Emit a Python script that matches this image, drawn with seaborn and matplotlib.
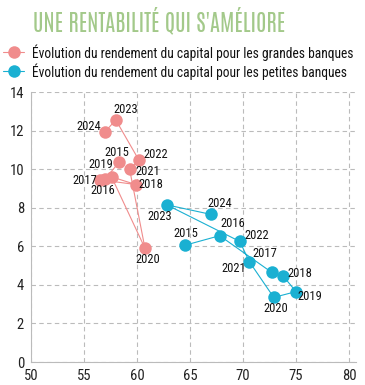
import matplotlib
matplotlib.use("Agg")
import matplotlib.pyplot as plt
import seaborn as sns
import pandas as pd
from matplotlib import font_manager

years = [2015, 2016, 2017, 2018, 2019, 2020, 2021, 2022, 2023, 2024]
grandes_x = [58.3, 57.0, 56.5, 59.9, 57.6, 60.75, 59.3, 60.2, 58.0, 57.0]
grandes_y = [10.35, 9.5, 9.45, 9.2, 9.6, 5.9, 10.0, 10.45, 12.55, 11.95]
petites_x = [64.5, 67.8, 72.7, 73.8, 75.0, 72.9, 70.6, 69.7, 62.8, 67.0]
petites_y = [6.05, 6.55, 4.65, 4.45, 3.65, 3.35, 5.2, 6.25, 8.15, 7.65]

title = "UNE RENTABILITÉ QUI S'AMÉLIORE"
label_grandes = "Évolution du rendement du capital pour les grandes banques"
label_petites = "Évolution du rendement du capital pour les petites banques"
xticks = [50, 55, 60, 65, 70, 75, 80]
yticks = [0, 2, 4, 6, 8, 10, 12, 14]

# label offsets in pixels (dx right, dy up)
off_grandes = [(-2, 10), (-2, -12), (-15, -1), (15, 0), (-11, 12), (3, -11), (18, -2), (17, 6), (10, 10), (-16, 5)]
off_petites = [(1, 12), (13, 12), (-7, 19), (17, 3), (14, -5), (2, -11), (-16, -7), (17, 6), (-7, -12), (9, 11)]

sns.set_theme(style="white")
names = {f.name for f in font_manager.fontManager.ttflist}


def pick(cands):
    for c in cands:
        if c in names:
            return c
    return "DejaVu Sans"


body = pick(["Roboto Condensed", "Barlow Condensed", "Asap Condensed", "Archivo Narrow"])
head = pick(["Antonio", "Pathway Gothic One", "League Gothic", "Oswald", "Barlow Condensed"])
plt.rcParams["font.family"] = [body, "DejaVu Sans"]

pink = "#f08c8c"
blue = "#1ab0d2"

fig = plt.figure(figsize=(3.65, 3.85), dpi=100)
ax = fig.add_axes([31 / 365, 1 - 362 / 385, 325 / 365, 270 / 385])

dg = pd.DataFrame({"x": grandes_x, "y": grandes_y, "year": years})
dp = pd.DataFrame({"x": petites_x, "y": petites_y, "year": years})

for d, c, lab in [(dg, pink, label_grandes), (dp, blue, label_petites)]:
    sns.lineplot(data=d, x="x", y="y", sort=False, estimator=None, color=c,
                 linewidth=0.8, marker="o", markersize=9, markeredgewidth=0,
                 label=lab, ax=ax, zorder=3)

for d, offs in [(dg, off_grandes), (dp, off_petites)]:
    for (xv, yv, yr), (dx, dy) in zip(d[["x", "y", "year"]].values, offs):
        ax.annotate(str(int(yr)), (xv, yv), xytext=(dx, dy), textcoords="offset pixels",
                    ha="center", va="center", fontsize=9, color="#111111", zorder=4)

ax.set_xlim(50, 80.66)
ax.set_ylim(0, 14)
ax.set_xticks(xticks)
ax.set_yticks(yticks)
ax.set_xlabel("")
ax.set_ylabel("")
ax.tick_params(axis="both", labelsize=10.5, labelcolor="#222222", color="#bbbbbb",
               length=3, width=0.6, pad=2)
ax.grid(True, color="#bbbbbb", linestyle=(0, (4, 3)), linewidth=0.8)
for s in ["top", "right"]:
    ax.spines[s].set_visible(False)
for s in ["left", "bottom"]:
    ax.spines[s].set_color("#bbbbbb")
    ax.spines[s].set_linewidth(0.8)

leg = ax.legend(loc="upper left", bbox_to_anchor=(0.0, 1 - 41 / 385), bbox_transform=fig.transFigure,
                frameon=False, fontsize=11.5, handlelength=1.3, handletextpad=0.5,
                labelspacing=0.15, borderaxespad=0, borderpad=0.2)
for t in leg.get_texts():
    t.set_color("#111111")

ttl = fig.text(33 / 365, 1 - 20 / 385, title, fontsize=20, family=[head, "DejaVu Sans"],
               color="#a3c98a", ha="left", va="center")

# fit text widths to the reference
fig.canvas.draw()
r = fig.canvas.get_renderer()
w = ttl.get_window_extent(r).width
ttl.set_fontsize(20 * 252 / w)
lt = leg.get_texts()[0]
w = lt.get_window_extent(r).width
fs = 11.5 * 322 / w
for t in leg.get_texts():
    t.set_fontsize(fs)

fig.savefig("out.png", dpi=100)
